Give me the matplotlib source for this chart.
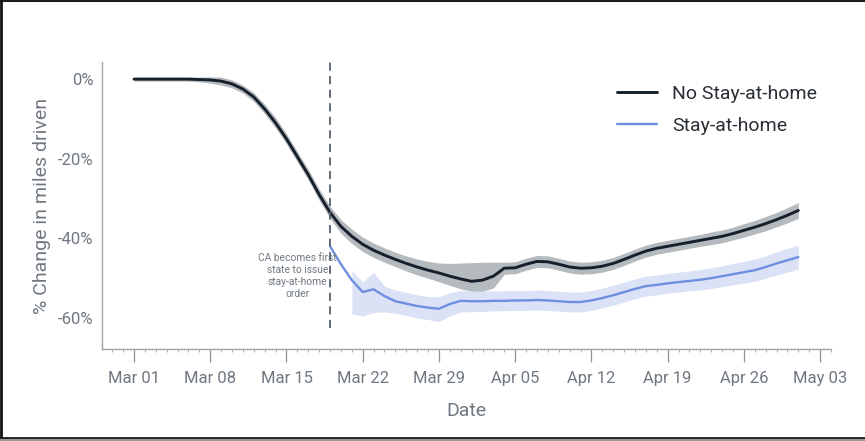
import datetime as dt
import numpy as np
import matplotlib
matplotlib.use("Agg")
import matplotlib.pyplot as plt
import matplotlib.dates as mdates
from matplotlib.lines import Line2D

plt.rcParams["font.family"] = ["Roboto", "DejaVu Sans"]

# Daily % change in miles driven, Mar 01 .. May 01 2020
start = dt.date(2020, 3, 1)
no_sah = [
    0.0, 0.0, 0.0, 0.0, 0.0, 0.0, -0.1, -0.2, -0.5, -1.2,
    -2.5, -4.5, -7.5, -11.0, -15.0, -19.5, -24.0, -29.0, -33.5, -37.0,
    -39.5, -41.5, -43.0, -44.2, -45.3, -46.3, -47.2, -48.0, -48.7, -49.5,
    -50.2, -50.8, -50.5, -49.5, -47.5, -47.4, -46.5, -45.8, -45.9, -46.5,
    -47.2, -47.5, -47.4, -47.0, -46.3, -45.3, -44.2, -43.2, -42.5, -42.0,
    -41.5, -41.0, -40.5, -40.0, -39.5, -38.8, -38.0, -37.2, -36.3, -35.3,
    -34.2, -33.0,
]
no_sah_up = [
    0.5, 0.5, 0.5, 0.5, 0.5, 0.5, 0.6, 0.8, 1.0, 1.0,
    1.0, 1.1, 1.2, 1.3, 1.3, 1.3, 1.3, 1.4, 1.5, 1.7,
    1.8, 1.8, 1.8, 1.8, 1.8, 1.9, 2.0, 2.2, 2.5, 3.2,
    4.0, 4.7, 4.5, 3.5, 1.5, 1.5, 1.5, 1.5, 1.5, 1.5,
    1.5, 1.5, 1.5, 1.5, 1.5, 1.5, 1.5, 1.5, 1.5, 1.5,
    1.5, 1.5, 1.5, 1.6, 1.6, 1.6, 1.7, 1.7, 1.8, 1.8,
    1.9, 2.0,
]
no_sah_lo = [
    0.5, 0.5, 0.5, 0.5, 0.5, 0.5, 0.6, 0.8, 1.0, 1.0,
    1.0, 1.1, 1.2, 1.3, 1.3, 1.3, 1.3, 1.4, 1.5, 1.7,
    1.8, 1.8, 1.8, 1.8, 1.8, 1.9, 2.0, 2.0, 2.2, 2.3,
    2.5, 2.5, 2.8, 3.0, 1.5, 1.5, 1.5, 1.5, 1.5, 1.5,
    1.5, 1.5, 1.5, 1.5, 1.5, 1.5, 1.5, 1.5, 1.5, 1.5,
    1.5, 1.5, 1.5, 1.6, 1.6, 1.6, 1.7, 1.7, 1.8, 1.8,
    1.9, 2.0,
]

# Stay-at-home states, Mar 19 .. May 01 2020
sah_start = dt.date(2020, 3, 19)
sah = [
    -42.0, -46.5, -50.5, -53.5, -52.8, -54.5, -55.8, -56.4, -57.0, -57.4,
    -57.7, -56.5, -55.7, -55.8, -55.8, -55.7, -55.7, -55.6, -55.6, -55.5,
    -55.6, -55.8, -56.0, -56.0, -55.6, -55.0, -54.3, -53.5, -52.7, -52.0,
    -51.7, -51.3, -51.0, -50.7, -50.4, -50.0, -49.5, -49.0, -48.5, -48.0,
    -47.2, -46.3, -45.5, -44.7,
]
sah_up = [
    np.nan, np.nan, 2.5, 2.5, 4.3, 2.5, 2.8, 2.8, 2.8, 2.8,
    3.0, 2.8, 2.6, 2.5, 2.5, 2.5, 2.5, 2.5, 2.5, 2.5,
    2.5, 2.5, 2.5, 2.5, 2.5, 2.5, 2.5, 2.5, 2.5, 2.5,
    2.5, 2.5, 2.5, 2.5, 2.6, 2.6, 2.6, 2.7, 2.7, 2.8,
    2.8, 2.9, 3.0, 3.0,
]
sah_lo = [
    np.nan, np.nan, 8.5, 6.0, 5.8, 4.0, 3.0, 3.0, 3.0, 3.0,
    3.2, 3.0, 2.8, 2.6, 2.6, 2.5, 2.5, 2.5, 2.5, 2.5,
    2.5, 2.5, 2.5, 2.5, 2.5, 2.5, 2.5, 2.5, 2.5, 2.5,
    2.5, 2.5, 2.5, 2.5, 2.6, 2.6, 2.6, 2.7, 2.7, 2.8,
    2.8, 2.9, 3.0, 3.0,
]

order_date = dt.date(2020, 3, 19)
order_text = "CA becomes first\nstate to issue\nstay-at-home\norder"
tick_dates = [dt.date(2020, 3, 1) + dt.timedelta(days=7 * i) for i in range(10)]
y_ticks = [0, -20, -40, -60]
y_tick_labels = ["0%", "-20%", "-40%", "-60%"]

days = [start + dt.timedelta(days=i) for i in range(len(no_sah))]
sah_days = [sah_start + dt.timedelta(days=i) for i in range(len(sah))]
no_sah_a = np.array(no_sah)
sah_a = np.array(sah)

grey_text = "#6f7882"
black_line = "#16202b"
blue_line = "#6e8fe0"

fig = plt.figure(figsize=(8.65, 4.41), dpi=100)
ax = fig.add_axes([0.1179, 0.2086, 0.8428, 0.6508])

ax.fill_between(days, no_sah_a - np.array(no_sah_lo), no_sah_a + np.array(no_sah_up),
                color="#a3a9ae", alpha=0.8, linewidth=0)
ax.fill_between(sah_days, sah_a - np.array(sah_lo), sah_a + np.array(sah_up),
                color="#dbe2f6", alpha=1.0, linewidth=0)
ax.plot(days, no_sah_a, color=black_line, lw=2.1, label="No Stay-at-home", solid_capstyle="round")
ax.plot(sah_days, sah_a, color=blue_line, lw=1.7, label="Stay-at-home", solid_capstyle="round")

# Order date marker and note
ax.vlines(order_date, -62.6, 4.3, colors="#56616c", linestyles=(0, (4.5, 3)), lw=1.3)
ax.text(dt.date(2020, 3, 16), -49.4, order_text, ha="center", va="center",
        fontsize=7.4, color=grey_text, linespacing=1.25)

ax.set_xlim(mdates.date2num(dt.date(2020, 3, 1)) - 2.94, mdates.date2num(dt.date(2020, 5, 3)) + 1.0)
ax.set_ylim(-67.8, 4.3)

ax.set_xticks(tick_dates)
ax.xaxis.set_major_formatter(mdates.DateFormatter("%b %d"))
ax.xaxis.set_minor_locator(mdates.DayLocator())
ax.set_yticks(y_ticks)
ax.set_yticklabels(y_tick_labels)

for s in ["top", "right"]:
    ax.spines[s].set_visible(False)
for s in ["left", "bottom"]:
    ax.spines[s].set_color("#9ea4aa")
    ax.spines[s].set_linewidth(1.0)

ax.tick_params(axis="x", which="major", length=9.5, width=0.9, color="#8d949b",
               labelsize=12, labelcolor=grey_text, pad=6)
ax.tick_params(axis="x", which="minor", length=2.5, width=0.7, color="#a4aab0")
ax.tick_params(axis="y", length=0, labelsize=12, labelcolor=grey_text, pad=6)

ax.set_xlabel("Date", fontsize=14, color=grey_text, labelpad=12)
ax.set_ylabel("% Change in miles driven", fontsize=14, color=grey_text, labelpad=5)

leg = ax.legend(loc="upper left", bbox_to_anchor=(0.7133, 0.8072), bbox_transform=fig.transFigure,
                frameon=False, fontsize=14, handlelength=2.06, handletextpad=0.77,
                labelspacing=0.7, borderpad=0, borderaxespad=0)
for t in leg.get_texts():
    t.set_color("#2a2f35")

# Figure frame
fig.add_artist(Line2D([0, 1], [1 - 0.6 / 441, 1 - 0.6 / 441], transform=fig.transFigure,
                      color="#1c1c1c", lw=1.5))
fig.add_artist(Line2D([1 / 865, 1 / 865], [0, 1], transform=fig.transFigure,
                      color="#111111", lw=2.0))
fig.add_artist(Line2D([0, 1], [3.5 / 441, 3.5 / 441], transform=fig.transFigure,
                      color="#1c1c1c", lw=2.0))
fig.add_artist(Line2D([0, 1], [1 / 441, 1 / 441], transform=fig.transFigure,
                      color="#9a9a9a", lw=1.5))

fig.savefig("out.png", dpi=100)
